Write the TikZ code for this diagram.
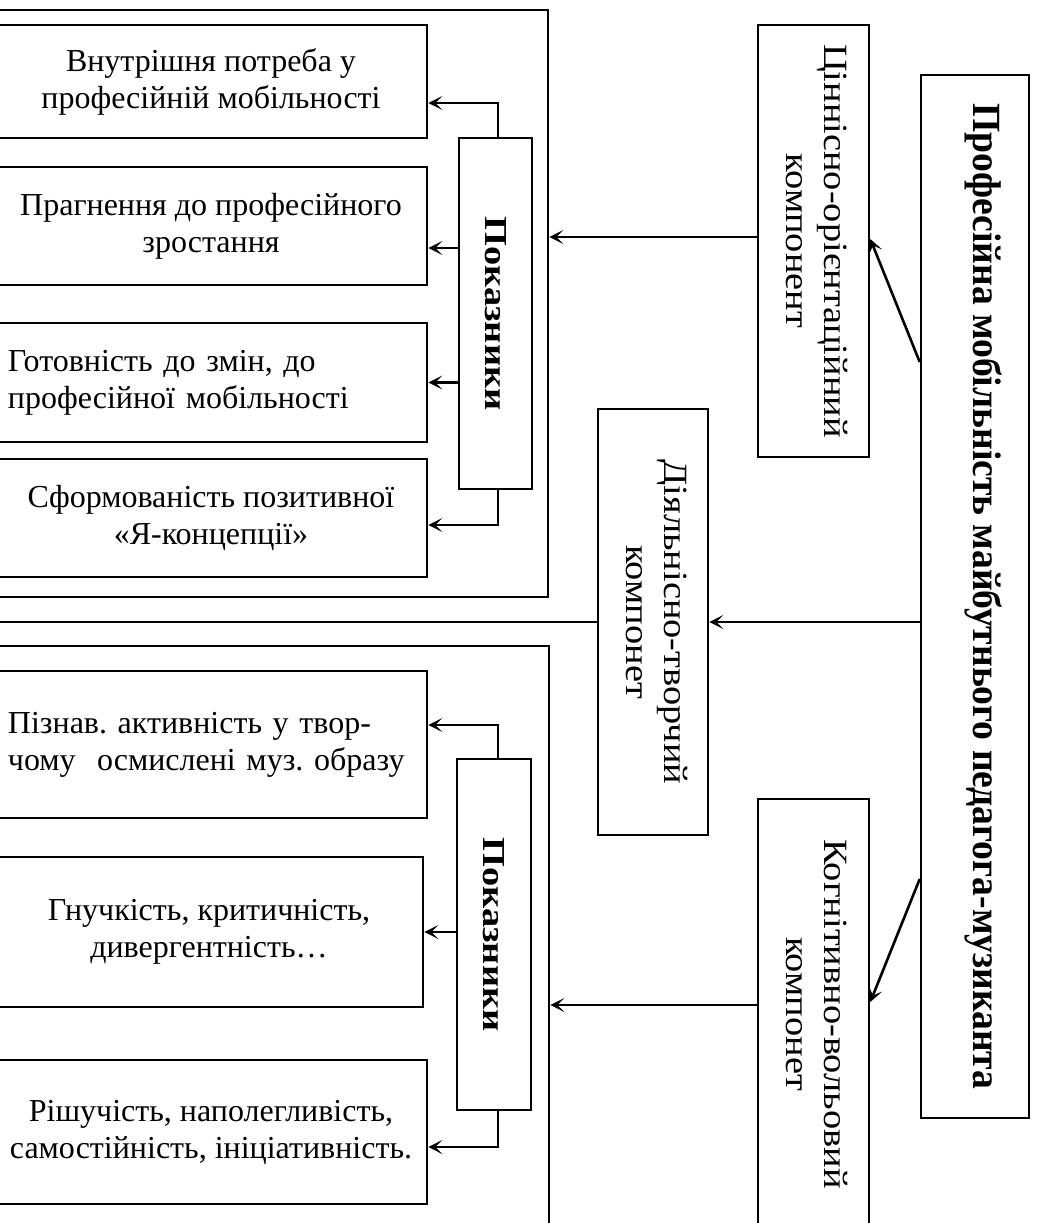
\documentclass[tikz,border=0pt]{standalone}
\usepackage{fontspec}
\setmainfont{Liberation Serif}
\usepackage{graphicx}
\usetikzlibrary{arrows.meta}
\frenchspacing

\newcommand{\turned}[2][1.13]{\rotatebox{-90}{\scalebox{#1}[1]{#2}}}

\begin{document}
\begin{tikzpicture}[x=1pt, y=-1pt,
  box/.style={draw, line width=2.6pt, inner sep=0pt, font=\fontsize{32}{37}\selectfont, align=center},
  arr/.style={line width=2.6pt, -{Stealth[length=14pt, width=14pt, inset=7pt]}},
  link/.style={line width=2.6pt},
  vfont/.style={font=\fontsize{34}{38}\selectfont}]
\fill[white] (0,0) rectangle (1036,1223);
\useasboundingbox (0,0) rectangle (1036,1223);

% frames
\node[box, minimum width=563, minimum height=587] (frameA) at (266.5,303.5) {};
\node[box, minimum width=564, minimum height=594] (frameB) at (267,943) {};

% indicators
\node[box, minimum width=432, minimum height=113] (box1) at (211,81.5) {Внутрішня потреба у\\професійній мобільності};
\node[box, minimum width=432, minimum height=118] (box2) at (211,226) {Прагнення до професійного\\зростання};
\node[box, minimum width=432, minimum height=119, text width=406, align=left] (box3) at (211,382.5) {Готовність до змін, до\\професійної мобільності};
\node[box, minimum width=432, minimum height=118] (box4) at (211,518) {Сформованість позитивної\\«Я-концепції»};
\node[box, minimum width=432, minimum height=147, text width=406, align=left] (box5) at (211,744.5) {Пізнав. активність у твор-\\чому\ \ осмислені муз. образу};
\node[box, minimum width=428, minimum height=150] (box6) at (209,932) {Гнучкість, критичність,\\дивергентність…};
\node[box, minimum width=432, minimum height=144] (box7) at (211,1132) {Рішучість, наполегливість,\\самостійність, ініціативність.};

\node[box, minimum width=73, minimum height=351] (pok1) at (495.5,313.5) {\turned[1.2]{\bfseries Показники}};
\node[box, minimum width=74, minimum height=351] (pok2) at (494,934.5) {\turned[1.2]{\bfseries Показники}};

% components
\node[box, vfont, minimum width=111, minimum height=432] (cinn) at (813.5,241) {\turned{\begin{tabular}{c}Ціннісно-орієнтаційний\\компонент\end{tabular}}};
\node[box, vfont, minimum width=110, minimum height=426] (dial) at (653,622) {\turned{\begin{tabular}{c}Діяльнісно-творчий\\компонет\end{tabular}}};
\node[box, vfont, minimum width=111, minimum height=430] (kogn) at (813.5,1014) {\turned{\begin{tabular}{c}Когнітивно-вольовий\\компонет\end{tabular}}};
\node[box, minimum width=108, minimum height=1043] (main) at (975,596.5) {\turned[0.94]{\fontsize{40}{46}\selectfont\bfseries\raisebox{-2pt}[0pt][0pt]{Професійна мобільність майбутнього педагога-музиканта}}};

\draw[arr] ([xshift=2.5pt]pok1.north) |- ([yshift=-21.5pt]box1.east);
\coordinate (t2) at ([yshift=-22pt]box2.east);
\draw[arr] (pok1.west |- t2) -- (t2);
\draw[arr] (pok1.west |- box3.east) -- (box3.east);
\draw[arr] ([xshift=2.5pt]pok1.south) |- ([yshift=-7pt]box4.east);
\draw[arr] ([xshift=4pt]pok2.north) |- ([yshift=19.5pt]box5.east);
\draw[arr] (pok2.west |- box6.east) -- (box6.east);
\draw[arr] ([xshift=4pt]pok2.south) |- ([yshift=-15pt]box7.east);

\draw[arr] ([yshift=234.5pt]main.west) -- ([yshift=2pt]cinn.east);
\draw[arr] ([yshift=-282.5pt]main.west) -- ([yshift=12pt]kogn.east);
\draw[arr] (main.west |- dial.east) -- (dial.east);
\coordinate (farleft) at (-15,622);
\draw[link] (dial.west) -- (farleft);
\draw[arr] ([yshift=4pt]cinn.west) -- ([yshift=4pt]cinn.west -| frameA.east);
\draw[arr] ([yshift=9pt]kogn.west) -- ([yshift=9pt]kogn.west -| frameB.east);
\end{tikzpicture}
\end{document}
